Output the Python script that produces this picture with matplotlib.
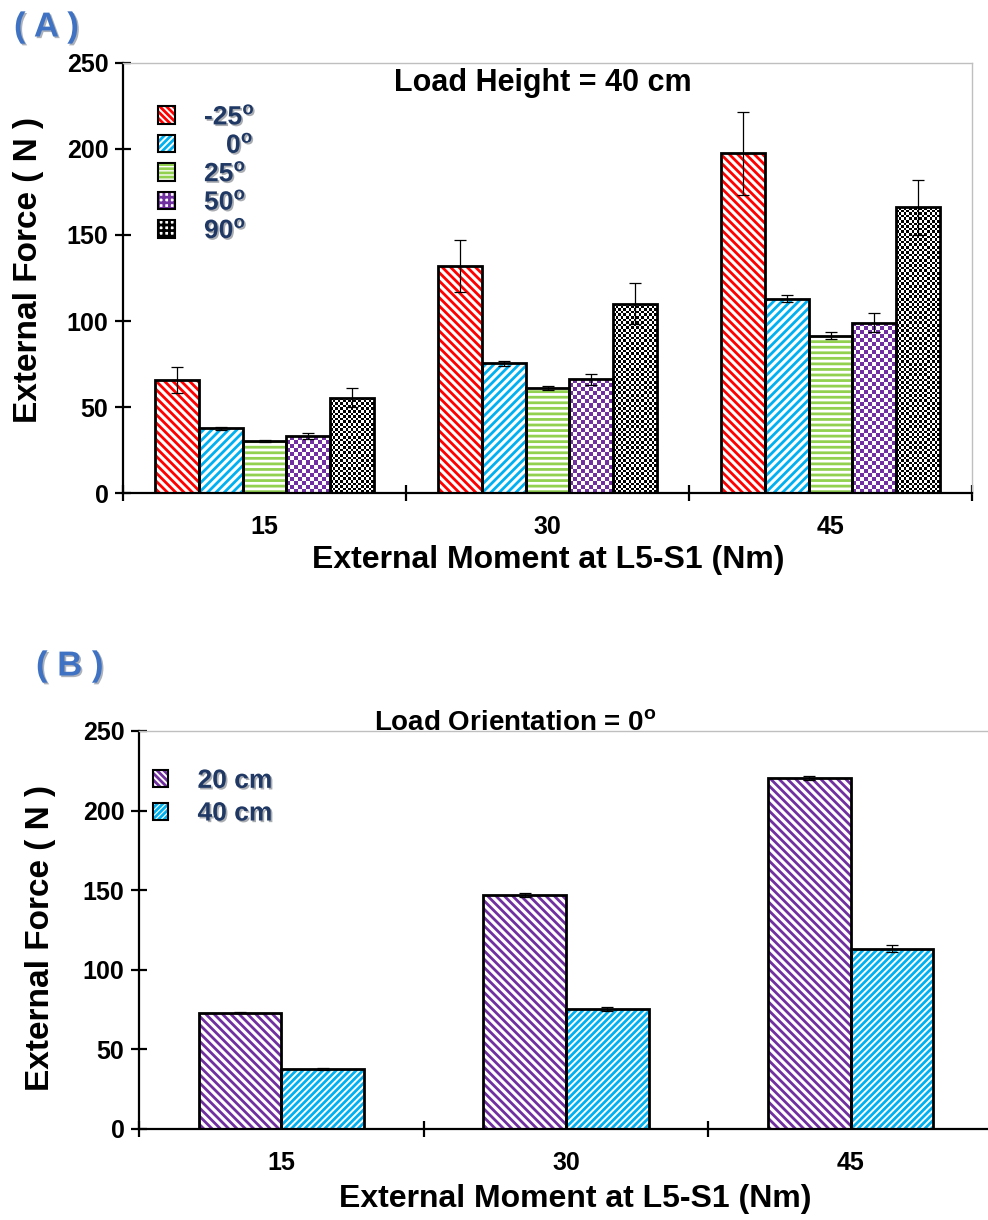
import matplotlib
matplotlib.use("Agg")
import matplotlib.pyplot as plt
import matplotlib.patheffects as pe
from matplotlib.patches import Patch
from matplotlib.legend_handler import HandlerTuple
import numpy as np

plt.rcParams["font.family"] = ["Liberation Sans", "DejaVu Sans"]
plt.rcParams["font.weight"] = "bold"
plt.rcParams["hatch.linewidth"] = 2.0

# data
moments = ["15", "30", "45"]

orient_labels = ["-25", "   0", "25", "50", "90"]
orient_force = [
    [65.7, 132.0, 197.5],   # -25
    [37.6, 75.3, 113.0],    # 0
    [30.2, 61.0, 91.5],     # 25
    [33.0, 66.0, 99.0],     # 50
    [55.4, 110.0, 166.0],   # 90
]
orient_err = [
    [7.7, 15.0, 24.0],
    [1.0, 1.5, 2.0],
    [0.5, 1.0, 2.0],
    [1.8, 3.0, 5.5],
    [5.5, 12.0, 16.0],
]

height_labels = ["20 cm", "40 cm"]
height_force = [
    [73.0, 147.0, 220.5],
    [37.6, 75.4, 113.3],
]
height_err = [
    [0.4, 1.0, 1.5],
    [0.5, 1.5, 2.0],
]

RED, BLUE, GREEN, PURPLE = "#ff0000", "#00b0f0", "#92d050", "#7030a0"
NAVY = "#1f3864"
orient_styles = [
    dict(color=RED, hatch="\\" * 4),
    dict(color=BLUE, hatch="/" * 4),
    dict(color=GREEN, hatch="---"),
    dict(color=PURPLE, checker=4.0),
    dict(color="black", checker=2.6),
]
height_styles = [
    dict(color=PURPLE, hatch="\\" * 4),
    dict(color=BLUE, hatch="/" * 5),
]

fig = plt.figure(figsize=(9.88, 12.2), dpi=100)
axA = fig.add_axes([123 / 988, 1 - 493 / 1220, 849 / 988, 430 / 1220])
axB = fig.add_axes([139 / 988, 1 - 1129 / 1220, 854 / 988, 398 / 1220])


def style_axes(ax):
    ax.set_xlim(0, 3)
    ax.set_ylim(0, 250)
    ax.set_yticks([0, 50, 100, 150, 200, 250])
    for s in ["top", "right"]:
        ax.spines[s].set_color("#bfbfbf")
        ax.spines[s].set_linewidth(1.0)
    for s in ["left", "bottom"]:
        ax.spines[s].set_linewidth(1.6)
    ax.tick_params(axis="y", direction="inout", length=11, width=1.6,
                   labelsize=18, pad=5)
    ax.set_xticks([0.5, 1.5, 2.5])
    ax.set_xticklabels(moments)
    ax.set_xticks([0, 1, 2, 3], minor=True)
    ax.tick_params(axis="x", which="major", length=0, labelsize=18, pad=16)
    ax.tick_params(axis="x", which="minor", direction="inout", length=12,
                   width=1.6)
    for t in ax.get_yticklabels() + ax.get_xticklabels():
        t.set_fontweight("bold")


def checker_fill(ax, bar, color, px):
    x0, w, h = bar.get_x(), bar.get_width(), bar.get_height()
    p0 = ax.transData.transform((x0, 0))
    p1 = ax.transData.transform((x0 + w, h))
    nx = max(1, int(round((p1[0] - p0[0]) / px)))
    ny = max(1, int(round((p1[1] - p0[1]) / px)))
    ii, jj = np.indices((ny, nx))
    mask = (ii + jj) % 2 == 0
    rgba = np.ones((ny, nx, 4))
    rgba[mask, :3] = matplotlib.colors.to_rgb(color)
    im = ax.imshow(rgba, extent=(x0, x0 + w, 0, h), origin="lower",
                   interpolation="nearest", aspect="auto", zorder=1)
    im.set_clip_path(bar)


def draw_bars(ax, values, errs, styles, bw):
    n = len(values)
    centers = np.arange(3) + 0.5
    for k in range(n):
        xs = centers + (k - (n - 1) / 2) * bw
        st = styles[k]
        if "hatch" in st:
            ax.bar(xs, values[k], bw, facecolor="white", edgecolor=st["color"],
                   hatch=st["hatch"], linewidth=0, zorder=1)
        outline = ax.bar(xs, values[k], bw, fill=False, edgecolor="black",
                         linewidth=2.0, zorder=2)
        if "checker" in st:
            for b in outline:
                checker_fill(ax, b, st["color"], st["checker"])
        ax.errorbar(xs, values[k], yerr=errs[k], fmt="none", ecolor="black",
                    elinewidth=0.9, capsize=4.5, capthick=0.9, zorder=3)
    ax.set_xlim(0, 3)
    ax.set_ylim(0, 250)


def legend_handle(st):
    if "hatch" in st:
        fill = Patch(facecolor="white", edgecolor=st["color"],
                     hatch=st["hatch"] + st["hatch"][0], linewidth=0)
    else:
        fill = Patch(facecolor="white", edgecolor=st["color"], hatch="+++",
                     linewidth=0)
    box = Patch(facecolor="none", edgecolor="black", linewidth=1.5)
    return (fill, box)


shadow = [pe.withSimplePatchShadow(offset=(1.2, -1.2), alpha=0.35)]

# panel A
style_axes(axA)
draw_bars(axA, orient_force, orient_err, orient_styles, 0.155)
legA = axA.legend([legend_handle(st) for st in orient_styles],
                  [lab + r"$^\mathregular{o}$" for lab in orient_labels],
                  handler_map={tuple: HandlerTuple(ndivide=1)},
                  loc="upper left", bbox_to_anchor=(0.041, 0.903),
                  frameon=False, prop=dict(size=19, weight="bold"),
                  handlelength=0.65, handleheight=0.65, handletextpad=1.1,
                  labelspacing=0.14, borderpad=0, borderaxespad=0)
for t in legA.get_texts():
    t.set_color(NAVY)
    t.set_path_effects(shadow)
axA.text(0.495, 0.953, "Load Height = 40 cm", transform=axA.transAxes,
         ha="center", va="center", fontsize=22, fontweight="bold")
fig.text(0.029, 1 - 270 / 1220, "External Force ( N )", rotation=90,
         ha="center", va="center", fontsize=24, fontweight="bold")
fig.text(548 / 988, 1 - 560 / 1220, "External Moment at L5-S1 (Nm)",
         ha="center", va="center", fontsize=23, fontweight="bold")
fig.text(14 / 988, 1 - 27 / 1220, "( A )", ha="left", va="center",
         fontsize=25, fontweight="bold", color="#3f72c2", path_effects=shadow)

# panel B
style_axes(axB)
draw_bars(axB, height_force, height_err, height_styles, 0.29)
legB = axB.legend([legend_handle(st) for st in height_styles], height_labels,
                  handler_map={tuple: HandlerTuple(ndivide=1)},
                  loc="upper left", bbox_to_anchor=(0.016, 0.905),
                  frameon=False, prop=dict(size=19, weight="bold"),
                  handlelength=0.6, handleheight=0.6, handletextpad=1.1,
                  labelspacing=0.33, borderpad=0, borderaxespad=0)
for t in legB.get_texts():
    t.set_color(NAVY)
    t.set_path_effects(shadow)
axB.text(0.440, 1.0, r"Load Orientation = 0$^\mathregular{o}$",
         transform=axB.transAxes, ha="center", va="baseline", fontsize=20,
         fontweight="bold")
fig.text(0.041, 1 - 938 / 1220, "External Force ( N )", rotation=90,
         ha="center", va="center", fontsize=24, fontweight="bold")
fig.text(575 / 988, 1 - 1199 / 1220, "External Moment at L5-S1 (Nm)",
         ha="center", va="center", fontsize=23, fontweight="bold")
fig.text(36 / 988, 1 - 666 / 1220, "( B )", ha="left", va="center",
         fontsize=25, fontweight="bold", color="#3f72c2", path_effects=shadow)

fig.savefig("out.png", dpi=100)
